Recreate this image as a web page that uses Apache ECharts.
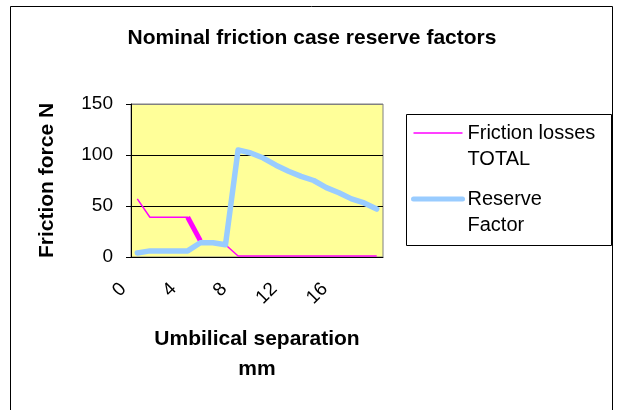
<!DOCTYPE html>
<html lang="en">
<head>
    <meta charset="UTF-8">
    <title>Nominal friction case reserve factors</title>
    <script type="text/javascript" src="https://cdn.jsdelivr.net/npm/echarts@6.0.0/dist/echarts.min.js"></script>
    <style type="text/css">
        html, body { margin: 0; padding: 0; background: #fff; }
        #chart { width: 624px; height: 410px; }
    </style>
</head>
<body>
    <div id="chart"></div>
</body>

<script type="text/javascript">
    // data
    var separation = ['0','1','2','3','4','5','6','7','8','9','10','11','12','13','14','15','16','17','18','19'];
    var frictionLosses = [57, 39, 39, 39, 39, 16, 13, 12, 1, 1, 1, 1, 1, 1, 1, 1, 1, 1, 1, 1];
    // the 4 -> 5 stretch of the magenta line is drawn heavy in the original
    var frictionHeavy = [null, null, null, null, 39, 16, null, null, null, null, null, null, null, null, null, null, null, null, null, null];
    var reserveFactor = [4, 6, 6, 6, 6, 14, 14, 12, 105, 102, 97, 90, 84, 79, 75, 68, 63, 57, 53, 47];
    var yTicks = [0, 50, 100, 150];

    var font = 'Liberation Sans, Arial, sans-serif';
    var chart = echarts.init(document.getElementById('chart'));

    var options = {
        animation: false,
        backgroundColor: '#fff',
        title: {
            text: 'Nominal friction case reserve factors',
            left: 'center',
            top: 23,
            textStyle: { fontFamily: font, fontSize: 21, fontWeight: 'bold', color: '#000' }
        },
        legend: {
            data: [
                { name: 'Friction losses\nTOTAL', lineStyle: { width: 1.5 } },
                { name: 'Reserve\nFactor', lineStyle: { width: 5 } }
            ],
            orient: 'vertical',
            left: 411,
            top: 94,
            padding: 0,
            itemGap: -12,
            itemWidth: 49,
            itemHeight: 14,
            itemStyle: { opacity: 0 },
            formatter: function (name) { return '\n' + name; },
            textStyle: { fontFamily: font, fontSize: 20, color: '#000', lineHeight: 26 }
        },
        graphic: [
            { type: 'rect', shape: { x: 10.5, y: 6.5, width: 602, height: 420 },
              style: { fill: null, stroke: '#000', lineWidth: 1 }, z: -1 },
            { type: 'rect', shape: { x: 406.5, y: 114.5, width: 205, height: 131 },
              style: { fill: null, stroke: '#000', lineWidth: 1 }, z: -1 }
        ],
        grid: {
            left: 131, right: 241, top: 104, bottom: 153,
            show: true,
            backgroundColor: '#FFFF99',
            borderColor: '#808080',
            borderWidth: 1
        },
        xAxis: {
            type: 'category',
            data: separation,
            boundaryGap: true,
            name: 'Umbilical separation\nmm',
            nameLocation: 'middle',
            nameGap: 67,
            nameTextStyle: { fontFamily: font, fontSize: 21, fontWeight: 'bold', color: '#000', lineHeight: 30 },
            axisLine: { lineStyle: { color: '#000', width: 1 } },
            axisTick: { interval: 0, length: 6, lineStyle: { color: '#000' } },
            axisLabel: {
                interval: 3,
                rotate: 45,
                margin: 15,
                padding: [0, 20, 0, 0],
                fontFamily: font, fontSize: 19, color: '#000'
            },
            splitLine: { show: false }
        },
        yAxis: {
            type: 'value',
            min: yTicks[0],
            max: yTicks[yTicks.length - 1],
            interval: 50,
            name: 'Friction force N',
            nameLocation: 'middle',
            nameGap: 73,
            nameTextStyle: { fontFamily: font, fontSize: 21, fontWeight: 'bold', color: '#000' },
            axisLine: { show: true, lineStyle: { color: '#000', width: 1 } },
            axisTick: { show: true, length: 5, lineStyle: { color: '#000' } },
            axisLabel: { margin: 18, fontFamily: font, fontSize: 19, color: '#000' },
            splitLine: { show: true, lineStyle: { color: ['#000', '#000', '#000', '#808080'], width: 1 } }
        },
        series: [
            {
                name: 'Friction losses\nTOTAL',
                type: 'line',
                data: frictionLosses,
                symbol: 'none',
                lineStyle: { color: '#FF00FF', width: 1.5 },
                itemStyle: { color: '#FF00FF' }
            },
            {
                name: 'heavy',
                type: 'line',
                data: frictionHeavy,
                symbol: 'none',
                silent: true,
                lineStyle: { color: '#FF00FF', width: 5 },
                itemStyle: { color: '#FF00FF' }
            },
            {
                name: 'Reserve\nFactor',
                type: 'line',
                data: reserveFactor,
                symbol: 'none',
                lineStyle: { color: '#99CCFF', width: 5.5, cap: 'round', join: 'round' },
                itemStyle: { color: '#99CCFF' }
            }
        ]
    };
    chart.setOption(options);
</script>
</html>
